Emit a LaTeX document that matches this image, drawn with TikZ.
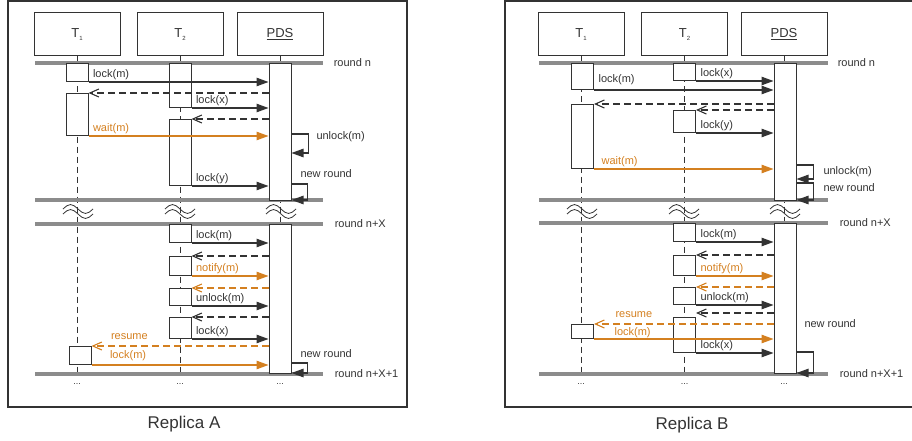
\documentclass[tikz,border=0pt]{standalone}
\usepackage{fontspec}
\setmainfont{Liberation Sans}
\usetikzlibrary{arrows.meta}
\definecolor{orng}{RGB}{212,128,32}
\definecolor{dark}{RGB}{51,51,51}
\definecolor{rnd}{RGB}{140,140,140}

\begin{document}
\begin{tikzpicture}[x=1pt,y=-1pt,line width=1pt,every node/.style={text=dark}]
  \tikzstyle{head}=[rectangle,draw=dark,minimum width=86pt,minimum height=43pt,
    font=\fontsize{13}{15}\selectfont]
  \tikzstyle{act}=[rectangle,draw=dark,fill=white,anchor=north,
    minimum width=22pt,inner sep=0pt]
  \tikzstyle{life}=[draw=dark,dash pattern=on 6pt off 4pt]
  \tikzstyle{roundline}=[draw=rnd,line width=3.5pt]
  \tikzstyle{msg}=[draw=dark,line width=1.1pt,-{Triangle[length=12pt,width=8.5pt]}]
  \tikzstyle{reply}=[draw=dark,line width=1.1pt,dash pattern=on 7pt off 4pt,
    -{Straight Barb[length=9pt,width=8pt]}]
  \tikzstyle{lbl}=[font=\fontsize{11}{13}\selectfont,anchor=south west,
    inner xsep=4pt,inner ysep=1.5pt,text height=8pt,text depth=2.5pt]
  \tikzstyle{note}=[font=\fontsize{11}{13}\selectfont,anchor=west,inner sep=0pt]
  \tikzstyle{wave}=[draw=dark,line width=0.8pt]
  \tikzstyle{dots}=[font=\fontsize{9}{9}\selectfont,inner sep=0pt]

  \useasboundingbox (0,0) rectangle (912,441);
  \coordinate (endA) at (0,374);
  \coordinate (endB) at (0,374);

  % ---------------- Replica A ----------------
  \draw[dark,line width=1.3pt] (8,1) rectangle (407,407);
  \node[head] (t1A) at (77,34.5) {T{\fontsize{6}{6}\selectfont\raisebox{-2.5pt}{1}}};
  \node[head] (t2A) at (180,34.5) {T{\fontsize{6}{6}\selectfont\raisebox{-2.5pt}{2}}};
  \node[head] (pdsA) at (280,34.5) {\underline{PDS}};

  \draw[life] (t1A.south) -- (t1A.south |- endA);
  \draw[life] (t2A.south) -- (t2A.south |- endA);
  \draw[life] (pdsA.south) -- (pdsA.south |- endA);

  \draw[roundline] (35,63) -- (323,63) node[note,xshift=9pt] (rA1) {round n};
  \draw[roundline] (35,200) -- (323,200);
  \draw[roundline] (35,224) -- (323,224) node[note,xshift=10pt] (rA2) {round n+X};
  \draw[roundline] (35,374) -- (323,374) node[note,xshift=10pt] (rA3) {round n+X+1};

  \draw[wave] (63,209) sin (70.5,204.5) cos (78,209) sin (85.5,213.5) cos (93,209)
    (63,214) sin (70.5,209.5) cos (78,214) sin (85.5,218.5) cos (93,214);
  \draw[wave] (165,209) sin (172.5,204.5) cos (180,209) sin (187.5,213.5) cos (195,209)
    (165,214) sin (172.5,209.5) cos (180,214) sin (187.5,218.5) cos (195,214);
  \draw[wave] (266,209) sin (273.5,204.5) cos (281,209) sin (288.5,213.5) cos (296,209)
    (266,214) sin (273.5,209.5) cos (281,214) sin (288.5,218.5) cos (296,214);

  \node[act,minimum height=137pt] (pA1) at (280,63) {};
  \node[act,minimum height=18pt] (a1) at (77,63) {};
  \node[act,minimum height=42pt] (a2) at (77,93) {};
  \node[act,minimum height=44pt] (b1) at (180,63) {};
  \node[act,minimum height=66pt] (b2) at (180,119) {};

  \draw[msg] (a1.south east) -- (a1.south east -| pA1.west) node[lbl,pos=0] {lock(m)};
  \draw[reply] (a2.north east -| pA1.west) -- (a2.north east);
  \draw[msg] (b1.south east) -- (b1.south east -| pA1.west) node[lbl,pos=0] {lock(x)};
  \draw[reply] (b2.north east -| pA1.west) -- (b2.north east);
  \draw[msg,draw=orng] (a2.south east) -- (a2.south east -| pA1.west)
    node[lbl,pos=0,text=orng] {wait(m)};
  \draw[msg] (b2.south east) -- (b2.south east -| pA1.west) node[lbl,pos=0] {lock(y)};

  \coordinate (uA) at (pA1.east |- 0,134);
  \draw[msg] (uA) -- ++(17,0) -- ++(0,19) -- ++(-17,0);
  \node[note] (ulA) at (316,137) {unlock(m)};
  \coordinate (nA1) at (pA1.east |- 0,184);
  \draw[msg] (nA1) -- ++(16,0) -- ++(0,16) -- ++(-16,0);
  \node[note] (nlA1) at (300,174) {new round};

  \node[act,minimum height=149pt] (pA2) at (280,224) {};
  \node[act,minimum height=18pt] (b3) at (180,224) {};
  \node[act,minimum height=19pt] (b4) at (180,256) {};
  \node[act,minimum height=17pt] (b5) at (180,288) {};
  \node[act,minimum height=21pt] (b6) at (180,317) {};
  \node[act,minimum height=18pt] (a3) at (80,346) {};

  \draw[msg] (b3.south east) -- (b3.south east -| pA2.west) node[lbl,pos=0] {lock(m)};
  \draw[reply] (b4.north east -| pA2.west) -- (b4.north east);
  \draw[msg,draw=orng] (b4.south east) -- (b4.south east -| pA2.west)
    node[lbl,pos=0,text=orng] {notify(m)};
  \draw[reply,draw=orng] (b5.north east -| pA2.west) -- (b5.north east);
  \draw[msg] (b5.south east) -- (b5.south east -| pA2.west) node[lbl,pos=0] {unlock(m)};
  \draw[reply] (b6.north east -| pA2.west) -- (b6.north east);
  \draw[msg] (b6.south east) -- (b6.south east -| pA2.west) node[lbl,pos=0] {lock(x)};
  \draw[reply,draw=orng] (a3.north east -| pA2.west) -- (a3.north east)
    node[lbl,pos=1,text=orng,xshift=15pt,yshift=2pt] {resume};
  \draw[msg,draw=orng] (a3.south east) -- (a3.south east -| pA2.west)
    node[lbl,pos=0,text=orng,xshift=14pt,yshift=2pt] {lock(m)};

  \coordinate (nA2) at (pA2.east |- 0,363);
  \draw[msg] (nA2) -- ++(16,0) -- ++(0,10) -- ++(-16,0);
  \node[note] (nlA2) at (300,354) {new round};

  \node[dots] (dA1) at (t1A.south |- 0,384) {...};
  \node[dots] (dA2) at (t2A.south |- 0,384) {...};
  \node[dots] (dA3) at (pdsA.south |- 0,384) {...};
  \node[font=\fontsize{17}{20}\selectfont] (repA) at (184,424) {Replica A};

  % ---------------- Replica B ----------------
  \draw[dark,line width=1.3pt] (505,1) rectangle (913,407);
  \node[head] (t1B) at (581,34.5) {T{\fontsize{6}{6}\selectfont\raisebox{-2.5pt}{1}}};
  \node[head] (t2B) at (684.5,34.5) {T{\fontsize{6}{6}\selectfont\raisebox{-2.5pt}{2}}};
  \node[head] (pdsB) at (784,34.5) {\underline{PDS}};

  \draw[life] (t1B.south) -- (t1B.south |- endB);
  \draw[life] (t2B.south) -- (t2B.south |- endB);
  \draw[life] (pdsB.south) -- (pdsB.south |- endB);

  \draw[roundline] (539,63) -- (828,63) node[note,xshift=8pt] (rB1) {round n};
  \draw[roundline] (539,200) -- (828,200);
  \draw[roundline] (539,223) -- (828,223) node[note,xshift=10pt] (rB2) {round n+X};
  \draw[roundline] (539,374) -- (828,374) node[note,xshift=10pt] (rB3) {round n+X+1};

  \draw[wave] (567,209) sin (574.5,204.5) cos (582,209) sin (589.5,213.5) cos (597,209)
    (567,214) sin (574.5,209.5) cos (582,214) sin (589.5,218.5) cos (597,214);
  \draw[wave] (669,209) sin (676.5,204.5) cos (684,209) sin (691.5,213.5) cos (699,209)
    (669,214) sin (676.5,209.5) cos (684,214) sin (691.5,218.5) cos (699,214);
  \draw[wave] (770,209) sin (777.5,204.5) cos (785,209) sin (792.5,213.5) cos (800,209)
    (770,214) sin (777.5,209.5) cos (785,214) sin (792.5,218.5) cos (800,214);

  \node[act,minimum height=137pt] (pB1) at (785,63) {};
  \node[act,minimum height=26pt] (c1) at (582.5,63) {};
  \node[act,minimum height=64pt] (c2) at (582.5,104) {};
  \node[act,minimum height=17pt] (d1) at (684.5,63) {};
  \node[act,minimum height=22pt] (d2) at (684.5,110) {};

  \draw[msg] (d1.south east) -- (d1.south east -| pB1.west) node[lbl,pos=0] {lock(x)};
  \draw[msg] (c1.south east) -- (c1.south east -| pB1.west)
    node[lbl,pos=0,yshift=3pt] {lock(m)};
  \draw[reply] (c2.north east -| pB1.west) -- (c2.north east);
  \draw[reply] (d2.north east -| pB1.west) -- (d2.north east);
  \draw[msg] (d2.south east) -- (d2.south east -| pB1.west) node[lbl,pos=0] {lock(y)};
  \draw[msg,draw=orng] (c2.south east) -- (c2.south east -| pB1.west)
    node[lbl,pos=0,xshift=3pt,text=orng] {wait(m)};

  \coordinate (uB) at (pB1.east |- 0,165);
  \draw[msg] (uB) -- ++(17,0) -- ++(0,14) -- ++(-17,0);
  \node[note] (ulB) at (823,172) {unlock(m)};
  \coordinate (nB1) at (pB1.east |- 0,183);
  \draw[msg] (nB1) -- ++(17,0) -- ++(0,17) -- ++(-17,0);
  \node[note] (nlB1) at (823,188) {new round};

  \node[act,minimum height=150pt] (pB2) at (785,223) {};
  \node[act,minimum height=18pt] (d3) at (684.5,223) {};
  \node[act,minimum height=20pt] (d4) at (684.5,255) {};
  \node[act,minimum height=17pt] (d5) at (684.5,287) {};
  \node[act,minimum height=35pt] (d6) at (684.5,317) {};
  \node[act,minimum height=14pt] (c3) at (582.5,324) {};

  \draw[msg] (d3.south east) -- (d3.south east -| pB2.west) node[lbl,pos=0] {lock(m)};
  \draw[reply] (d4.north east -| pB2.west) -- (d4.north east);
  \draw[msg,draw=orng] (d4.south east) -- (d4.south east -| pB2.west)
    node[lbl,pos=0,text=orng] {notify(m)};
  \draw[reply,draw=orng] (d5.north east -| pB2.west) -- (d5.north east);
  \draw[msg] (d5.south east) -- (d5.south east -| pB2.west) node[lbl,pos=0] {unlock(m)};
  \draw[reply] (pB2.west |- 0,313) -- (d6.east |- 0,313);
  \draw[reply,draw=orng] (c3.north east -| pB2.west) -- (c3.north east)
    node[lbl,pos=1,text=orng,xshift=17pt,yshift=2pt] {resume};
  \draw[msg,draw=orng] (c3.south east) -- (c3.south east -| pB2.west)
    node[lbl,pos=0,text=orng,xshift=16pt,yshift=-1pt] {lock(m)};
  \draw[msg] (d6.south east) -- (d6.south east -| pB2.west) node[lbl,pos=0] {lock(x)};

  \node[note] (nlB2) at (804,324) {new round};
  \coordinate (nB2) at (pB2.east |- 0,352);
  \draw[msg] (nB2) -- ++(17,0) -- ++(0,21) -- ++(-17,0);

  \node[dots] (dB1) at (t1B.south |- 0,384) {...};
  \node[dots] (dB2) at (t2B.south |- 0,384) {...};
  \node[dots] (dB3) at (pdsB.south |- 0,384) {...};
  \node[font=\fontsize{17}{20}\selectfont] (repB) at (692,425) {Replica B};
\end{tikzpicture}
\end{document}
